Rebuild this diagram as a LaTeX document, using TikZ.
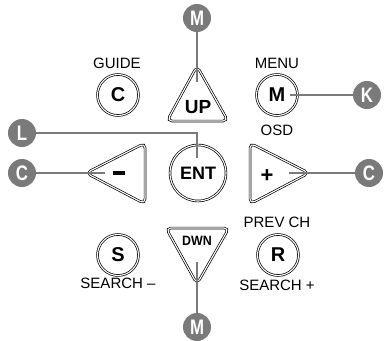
\documentclass[tikz,border=0pt]{standalone}
\usepackage{fontspec}
\setmainfont{Liberation Sans}
\begin{document}
\begin{tikzpicture}[x=1pt,y=-1pt,
  btn/.style={circle,draw=black,line width=0.7pt,double=white,double distance=1.1pt,minimum size=41pt,inner sep=0pt,font=\fontsize{20}{20}\selectfont\bfseries},
  tri/.style={draw=black,line width=0.7pt,double=white,double distance=1.1pt,rounded corners=5pt},
  lbl/.style={font=\fontsize{15}{15}\selectfont,inner sep=0pt},
  tlbl/.style={font=\fontsize{19}{19}\selectfont\bfseries,inner sep=0pt},
  callout/.style={circle,fill=calloutgray,minimum size=28pt,inner sep=0pt,text=white,font=\fontsize{21}{21}\selectfont\bfseries},
  lead/.style={draw=calloutgray,line width=2.8pt}]
\definecolor{calloutgray}{HTML}{7A7A7A}
\useasboundingbox (0,0) rectangle (384,341);
% triangles
\draw[tri] (197,66) -- (228,121) -- (167,121) -- cycle;
\draw[tri] (86,173) -- (145,143) -- (145,204) -- cycle;
\draw[tri] (309,173) -- (250,143) -- (250,204) -- cycle;
\draw[tri] (166,228) -- (229,228) -- (197,284) -- cycle;
\node[tlbl] (up) at (198,107) {UP};
\node[inner sep=0pt] (minus) at (119,173) {\rule{12pt}{3.2pt}};
\node[tlbl,font=\fontsize{22}{22}\selectfont\bfseries] (plus) at (267,176) {+};
\node[font=\fontsize{13.5}{13.5}\selectfont\bfseries,inner sep=0pt] (dwn) at (197,241) {\scalebox{0.92}[1]{DWN}};
% round buttons
\node[btn] (guide) at (118,95) {C};
\node[btn] (menu) at (277,95) {M};
\node[btn,minimum size=56pt,font=\fontsize{18}{18}\selectfont\bfseries] (ent) at (198,173) {ENT};
\node[btn] (search) at (118,255) {S};
\node[btn] (prev) at (278,255) {R};
% labels
\node[lbl] at (117,63) {GUIDE};
\node[lbl] at (277,63) {MENU};
\node[lbl] at (277,130) {OSD};
\node[lbl] at (277,222) {PREV CH};
\node[lbl] at (118,283) {SEARCH –};
\node[lbl] at (277,285) {SEARCH +};
% callouts
\node[callout] (mtop) at (197,18) {\scalebox{0.8}[1]{M}};
\node[callout] (k) at (367,95) {\scalebox{0.8}[1]{K}};
\node[callout] (l) at (22,133) {\scalebox{0.8}[1]{L}};
\node[callout] (cl) at (22,173) {\scalebox{0.8}[1]{C}};
\node[callout] (cr) at (369,173) {\scalebox{0.8}[1]{C}};
\node[callout] (mbot) at (197,327) {\scalebox{0.8}[1]{M}};
% leader end coordinates
\coordinate (upend) at (197,82);
\coordinate (entend) at (197,158);
\coordinate (minend) at (105,173);
\coordinate (plusend) at (289,173);
\coordinate (dwnend) at (197,262);
\coordinate (menuend) at (290,95);
% leaders
\draw[lead] (mtop) -- (upend);
\draw[lead] (k) -- (menuend);
\draw[lead] (l) -- (197,133) -- (entend);
\draw[lead] (cl) -- (minend);
\draw[lead] (cr) -- (plusend);
\draw[lead] (mbot) -- (dwnend);
\end{tikzpicture}
\end{document}
